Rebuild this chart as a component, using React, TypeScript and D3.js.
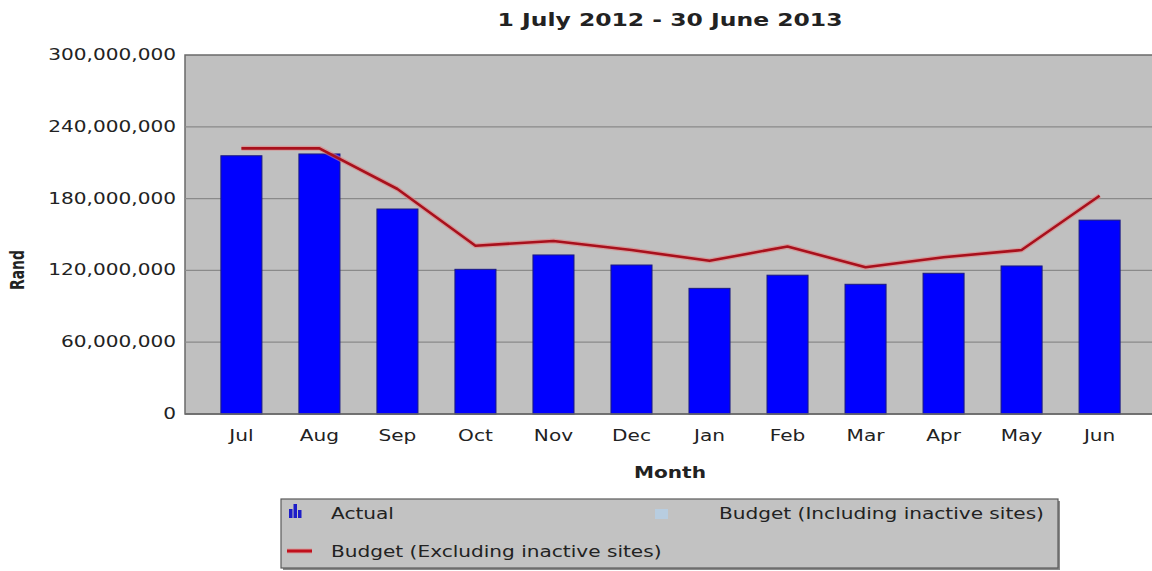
import React from "react";
import * as d3 from "d3";

const months = ["Jul", "Aug", "Sep", "Oct", "Nov", "Dec", "Jan", "Feb", "Mar", "Apr", "May", "Jun"];
const actual = [215.8, 217.3, 171.3, 120.9, 132.9, 124.5, 105, 116, 108.4, 117.6, 123.7, 162].map((v) => v * 1e6);
const budgetExcl = [222, 222, 188, 140.6, 144.6, 137, 128, 140, 122.6, 131, 137, 182.4].map((v) => v * 1e6);
const yTicks = [0, 60e6, 120e6, 180e6, 240e6, 300e6];

const W = 1152;
const H = 571;
const SX = 1.34;
const FONT = "'DejaVu Sans', Verdana, sans-serif";

function SText({ x, y, children, anchor = "start", size = 15, bold = false, rotate = 0, fill = "#222" }: any) {
  return (
    <text
      transform={`translate(${x},${y}) scale(${SX},1)${rotate ? ` rotate(${rotate})` : ""}`}
      textAnchor={anchor}
      fontSize={size}
      fontWeight={bold ? "bold" : "normal"}
      fontFamily={FONT}
      fill={fill}
    >
      {children}
    </text>
  );
}

export default function App() {
  const left = 185;
  const top = 55;
  const bottom = 414;
  const x = d3.scaleBand<string>().domain(months).range([left, 1156]).paddingInner(0.474).paddingOuter(0.46);
  const y = d3.scaleLinear().domain([0, 300e6]).range([bottom, top]);
  const fmt = d3.format(",");
  const line = d3
    .line<number>()
    .x((_, i) => (x(months[i]) as number) + x.bandwidth() / 2)
    .y((d) => y(d));
  const path = line(budgetExcl) || "";

  return (
    <svg width={W} height={H} style={{ position: "absolute", left: 0, top: 0 }}>
      <rect x={0} y={0} width={W} height={H} fill="#ffffff" />
      <SText x={670} y={26} anchor="middle" size={17.5} bold>
        1 July 2012 - 30 June 2013
      </SText>
      <rect x={left} y={top} width={1160 - left} height={bottom - top} fill="#c0c0c0" stroke="#6a6a6a" strokeWidth={1.5} />
      {yTicks.map((t) =>
        t > 0 && t < 300e6 ? (
          <line key={"g" + t} x1={left} x2={1160} y1={y(t)} y2={y(t)} stroke="#8a8a8a" strokeWidth={1.2} />
        ) : null
      )}
      {yTicks.map((t) => (
        <SText key={"t" + t} x={176} y={y(t) + 5} anchor="end" size={15}>
          {fmt(t)}
        </SText>
      ))}
      {months.map((m, i) => (
        <rect
          key={m}
          x={x(m) as number}
          y={y(actual[i])}
          width={x.bandwidth()}
          height={bottom - y(actual[i])}
          fill="#0000ff"
          stroke="#1a1a80"
          strokeWidth={1}
        />
      ))}
      <path d={path} fill="none" stroke="#e08080" strokeOpacity={0.6} strokeWidth={5} strokeLinejoin="round" />
      <path d={path} fill="none" stroke="#a8101c" strokeWidth={2.6} strokeLinejoin="round" />
      <line x1={left} x2={1160} y1={bottom} y2={bottom} stroke="#6a6a6a" strokeWidth={1.5} />
      {months.map((m) => (
        <SText key={"x" + m} x={(x(m) as number) + x.bandwidth() / 2} y={441} anchor="middle" size={15}>
          {m}
        </SText>
      ))}
      <SText x={670} y={478} anchor="middle" size={15} bold>
        Month
      </SText>
      <SText x={24} y={270} anchor="middle" size={14} bold rotate={-90}>
        Rand
      </SText>

      {/* Legend */}
      <rect x={283} y={501} width={777} height={69} fill="#8a8a8a" />
      <rect x={281} y={499} width={777} height={69} fill="#c2c2c2" stroke="#5a5a5a" strokeWidth={1.2} />
      <g>
        <rect x={289} y={509} width={3.5} height={9} fill="#1c1cc8" />
        <rect x={293.5} y={504} width={3.5} height={14} fill="#1c1cc8" />
        <rect x={298} y={510} width={3.5} height={8} fill="#1c1cc8" />
      </g>
      <SText x={331} y={519} size={15}>
        Actual
      </SText>
      <rect x={655} y={509} width={13} height={10} fill="#b8cde0" />
      <SText x={719} y={519} size={15}>
        Budget (Including inactive sites)
      </SText>
      <line x1={287} x2={312} y1={551} y2={551} stroke="#e08080" strokeOpacity={0.6} strokeWidth={5} />
      <line x1={287} x2={312} y1={551} y2={551} stroke="#c0101c" strokeWidth={3} />
      <SText x={331} y={557} size={15}>
        Budget (Excluding inactive sites)
      </SText>
    </svg>
  );
}
